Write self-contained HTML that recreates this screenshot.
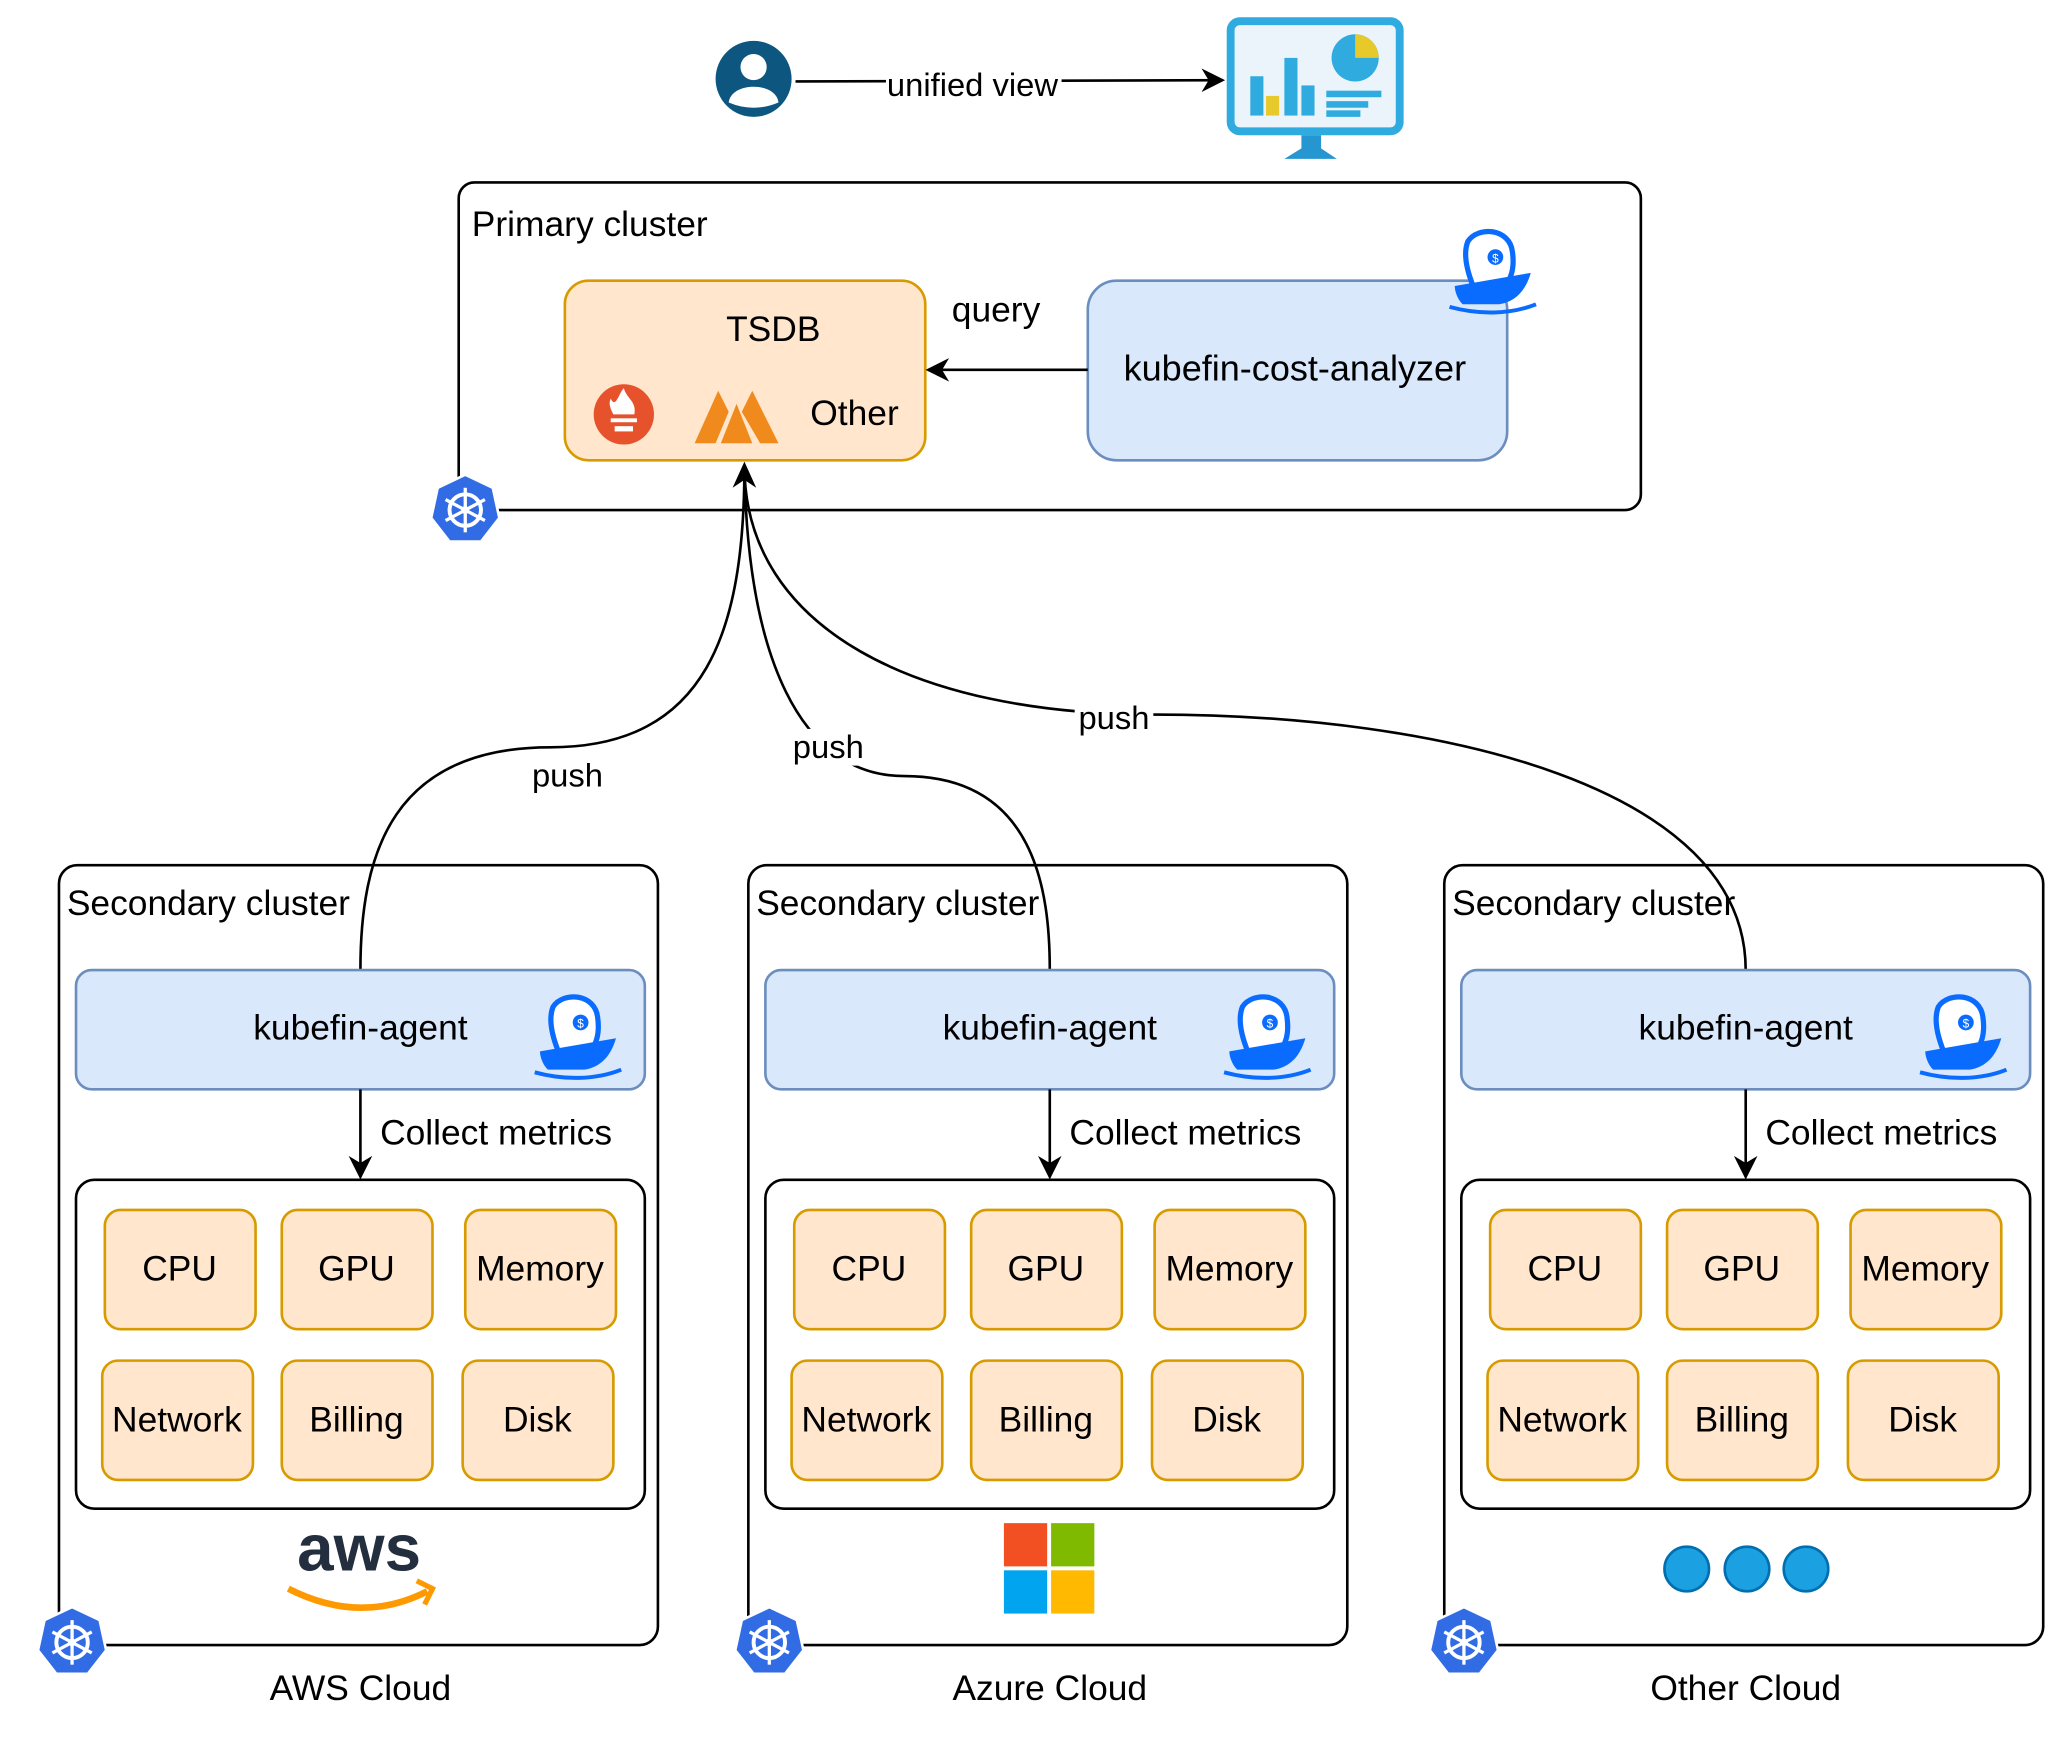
<!DOCTYPE html>
<html><head><meta charset="utf-8"><style>
html,body{margin:0;padding:0;background:#fff}
svg{display:block}
text{font-family:"Liberation Sans",sans-serif;fill:#000}
</style></head><body>
<svg width="2055" height="1737" viewBox="0 0 1568 1325" xmlns="http://www.w3.org/2000/svg">
<defs>
<marker id="ah2" viewBox="0 0 10 10" refX="9" refY="5" markerWidth="18" markerHeight="18" orient="auto" markerUnits="userSpaceOnUse">
<path d="M0,0 L10,5 L0,10 L3,5 z" fill="#000"/></marker>
<g id="k8s">
<polygon points="0,-27 21,-17 26,6 12,24 -12,24 -26,6 -21,-17" fill="#326ce5" stroke="#fff" stroke-width="2"/>
<circle r="12" fill="none" stroke="#fff" stroke-width="3"/>
<circle r="3" fill="#fff"/>
<g stroke="#fff" stroke-width="2.5"><line x1="0" y1="-17" x2="0" y2="17"/><line x1="-15" y1="-8" x2="15" y2="8"/><line x1="-15" y1="8" x2="15" y2="-8"/></g>
</g>
<g id="boat">
<path d="M-18,-30 C-10,-42 14,-40 16,-22 C18,-8 14,0 10,4 L-14,4 C-18,-6 -22,-20 -18,-30z" fill="#fff" stroke="#0a6cff" stroke-width="4"/>
<circle cx="3" cy="-18" r="6" fill="#0a6cff"/>
<text x="3" y="-14" font-size="9" text-anchor="middle" style="fill:#fff">$</text>
<path d="M-28,4 L30,-6 C26,8 18,16 6,18 L-22,18 C-26,14 -28,8 -28,4z" fill="#0a6cff"/>
<path d="M-32,20 C-10,26 14,26 34,18" stroke="#0a6cff" stroke-width="3" fill="none"/>
</g>
</defs>

<circle cx="575" cy="60" r="29" fill="#0d5680"/>
<circle cx="575" cy="51" r="10" fill="#fff"/>
<path d="M556,78 C558,62 592,62 594,78 Q575,86 556,78z" fill="#fff"/>
<line x1="607" y1="62" x2="933" y2="61" stroke="#000" stroke-width="2" marker-end="url(#ah2)"/>
<rect x="676" y="50" width="134" height="28" fill="#fff"/>
<text x="742" y="73" font-size="25" text-anchor="middle">unified view</text>

<rect x="939" y="16" width="129" height="84" rx="7" fill="#eaf4fa" stroke="#2fabe0" stroke-width="6"/>
<rect x="954" y="58" width="10" height="30" fill="#2fabe0"/><rect x="966" y="73" width="10" height="15" fill="#e8c92c"/>
<rect x="980" y="44" width="10" height="44" fill="#2fabe0"/><rect x="993" y="65" width="10" height="23" fill="#2fabe0"/>
<circle cx="1034" cy="44" r="18" fill="#2fabe0"/><path d="M1034,44 L1034,26 A18,18 0 0 1 1052,44 z" fill="#e8c92c"/>
<rect x="1012" y="69" width="42" height="5" fill="#2fabe0"/><rect x="1012" y="77" width="32" height="5" fill="#2fabe0"/><rect x="1012" y="84" width="26" height="5" fill="#2fabe0"/>
<path d="M993,103 L1008,103 L1008,113 L1020,121 L980,121 L993,113z" fill="#2596cf"/>

<rect x="350" y="139" width="902" height="250" rx="12" fill="#fff" stroke="#000" stroke-width="2"/>
<text x="360" y="180" font-size="27">Primary cluster</text>
<rect x="431" y="214" width="275" height="137" rx="18" fill="#ffe6cc" stroke="#d79b00" stroke-width="2"/>
<text x="590" y="260" font-size="27" text-anchor="middle">TSDB</text>
<text x="652" y="324" font-size="27" text-anchor="middle">Other</text>
<circle cx="476" cy="316" r="23" fill="#e6522c"/>
<path d="M466,304 C470,312 472,300 476,296 C478,304 486,306 484,316 L468,316 C466,312 464,308 466,304z" fill="#fff"/>
<rect x="466" y="319" width="20" height="3" fill="#fff"/><rect x="469" y="325" width="14" height="4" fill="#fff"/>
<g fill="#f08a1c">
<path d="M530,338 L548,298 L556,314 L546,338z"/><path d="M550,338 L562,308 L574,338z"/><path d="M566,314 L574,298 L594,338 L580,338z"/>
</g>
<rect x="830" y="214" width="320" height="137" rx="22" fill="#dae8fc" stroke="#6c8ebf" stroke-width="2"/>
<text x="988" y="290" font-size="27.5" text-anchor="middle">kubefin-cost-analyzer</text>
<use href="#boat" x="1138" y="214"/>
<line x1="830" y1="282" x2="708" y2="282" stroke="#000" stroke-width="2" marker-end="url(#ah2)"/>
<text x="760" y="245" font-size="27" text-anchor="middle">query</text>
<use href="#k8s" x="355" y="389"/>

<g fill="none" stroke="#000" stroke-width="2">
<path d="M275,740 C275,650 300,570 420,570 C540,570 568,480 568,355"/>
<path d="M801,740 C801,680 790,592 690,592 C610,592 570,500 568,355"/>
<path d="M1332,740 C1332,600 1100,545 880,545 C700,545 568,480 568,355"/>
</g>
<path d="M568,352 L577,372 L568,366 L559,372z" fill="#000"/>
<rect x="404" y="578" width="60" height="28" fill="#fff"/><text x="433" y="600" font-size="25" text-anchor="middle">push</text>
<rect x="603" y="556" width="60" height="28" fill="#fff"/><text x="632" y="578" font-size="25" text-anchor="middle">push</text>
<rect x="820" y="534" width="60" height="28" fill="#fff"/><text x="850" y="556" font-size="25" text-anchor="middle">push</text>

<g id="sec">
<rect x="45" y="660" width="457" height="595" rx="14" fill="none" stroke="#000" stroke-width="2"/>
<text x="51" y="698" font-size="27">Secondary cluster</text>
<rect x="58" y="740" width="434" height="91" rx="12" fill="#dae8fc" stroke="#6c8ebf" stroke-width="2"/>
<text x="275" y="793" font-size="27" text-anchor="middle">kubefin-agent</text>
<use href="#boat" x="440" y="798"/>
<line x1="275" y1="831" x2="275" y2="898" stroke="#000" stroke-width="2" marker-end="url(#ah2)"/>
<text x="290" y="873" font-size="27">Collect metrics</text>
<rect x="58" y="900" width="434" height="251" rx="14" fill="#fff" stroke="#000" stroke-width="2"/>
<g fill="#ffe6cc" stroke="#d79b00" stroke-width="2">
<rect x="80" y="923" width="115" height="91" rx="12"/><rect x="215" y="923" width="115" height="91" rx="12"/><rect x="355" y="923" width="115" height="91" rx="12"/>
<rect x="78" y="1038" width="115" height="91" rx="12"/><rect x="215" y="1038" width="115" height="91" rx="12"/><rect x="353" y="1038" width="115" height="91" rx="12"/>
</g>
<g font-size="27" text-anchor="middle">
<text x="137" y="977">CPU</text><text x="272" y="977">GPU</text><text x="412" y="977">Memory</text>
<text x="135" y="1092">Network</text><text x="272" y="1092">Billing</text><text x="410" y="1092">Disk</text>
</g>
</g>
<use href="#sec" x="526"/>
<use href="#sec" x="1057"/>
<use href="#k8s" x="55" y="1253"/>
<use href="#k8s" x="587" y="1253"/>
<use href="#k8s" x="1117" y="1253"/>

<text x="274" y="1198" font-size="50" font-weight="bold" text-anchor="middle" style="fill:#232f3e">aws</text>
<path d="M220,1212 Q275,1240 326,1214" stroke="#f90" stroke-width="5" fill="none"/>
<path d="M318,1206 L330,1212 L324,1224" stroke="#f90" stroke-width="4" fill="none"/>
<rect x="766" y="1162" width="33" height="33" fill="#f25022"/><rect x="802" y="1162" width="33" height="33" fill="#7fba00"/>
<rect x="766" y="1198" width="33" height="33" fill="#00a4ef"/><rect x="802" y="1198" width="33" height="33" fill="#ffb900"/>
<g fill="#1ba1e2" stroke="#006eaf" stroke-width="2">
<circle cx="1287" cy="1197" r="17"/><circle cx="1333" cy="1197" r="17"/><circle cx="1378" cy="1197" r="17"/>
</g>
<g font-size="27" text-anchor="middle">
<text x="275" y="1297">AWS Cloud</text><text x="801" y="1297">Azure Cloud</text><text x="1332" y="1297">Other Cloud</text>
</g>
</svg>
</body></html>
